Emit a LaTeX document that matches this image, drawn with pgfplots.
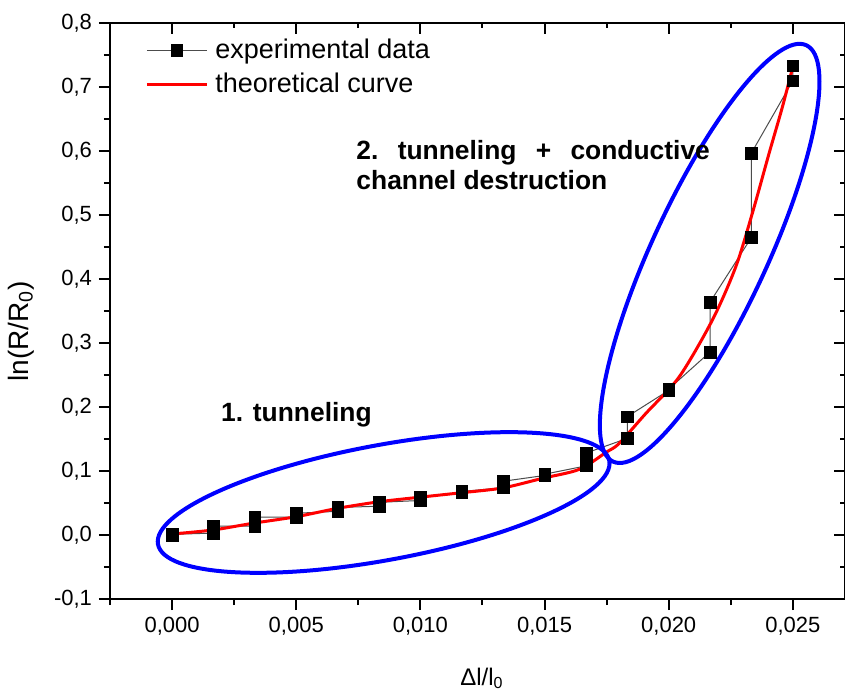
\documentclass[border=0pt]{standalone}
\usepackage{fontspec}
\setmainfont{Liberation Sans}
\usepackage{pgfplots}
\pgfplotsset{compat=1.18}
\usetikzlibrary{shapes.geometric}

% measured points (two readings per strain step)
\pgfplotstableread{
x y
0.0000000 0.000
0.0000000 0.001
0.0016667 0.003
0.0016667 0.014
0.0033333 0.014
0.0033333 0.028
0.0050000 0.028
0.0050000 0.034
0.0066667 0.037
0.0066667 0.043
0.0083333 0.045
0.0083333 0.051
0.0100000 0.054
0.0100000 0.060
0.0116667 0.066
0.0116667 0.068
0.0133333 0.074
0.0133333 0.084
0.0150000 0.093
0.0150000 0.095
0.0166667 0.108
0.0166667 0.128
0.0183333 0.151
0.0183333 0.185
0.0200000 0.226
0.0200000 0.228
0.0216667 0.286
0.0216667 0.364
0.0233333 0.465
0.0233333 0.597
0.0250000 0.710
0.0250000 0.733
}\expdata

% fitted curve
\pgfplotstableread{
x y
0.00000 0.0016
0.00164 0.0078
0.00325 0.0183
0.00500 0.0286
0.00667 0.0417
0.00835 0.0520
0.00996 0.0590
0.01164 0.0660
0.01331 0.0735
0.01492 0.0886
0.01640 0.1026
0.01747 0.1290
0.01800 0.1430
0.01908 0.1900
0.02042 0.2470
0.02176 0.3360
0.02270 0.4190
0.02337 0.5030
0.02404 0.5960
0.02458 0.6690
0.02498 0.7290
}\theory

\pgfplotsset{
  frame/.style={
    scale only axis, width=367.5pt, height=288pt,
    xmin=-0.0025, xmax=0.0271, ymin=-0.1, ymax=0.8,
    scaled x ticks=false, scaled y ticks=false,
    axis line style={line width=1pt},
    every tick/.style={black, line width=1pt},
    xtick={0,0.005,0.01,0.015,0.02,0.025},
    minor xtick={-0.0025,0.0025,0.0075,0.0125,0.0175,0.0225},
    ytick={-0.1,0,0.1,0.2,0.3,0.4,0.5,0.6,0.7,0.8},
    minor ytick={-0.05,0.05,0.15,0.25,0.35,0.45,0.55,0.65,0.75},
  }
}

\begin{document}
\begin{tikzpicture}
\begin{axis}[
  frame,
  axis x line*=bottom, axis y line*=left,
  tick align=outside,
  major tick length=5.5pt, minor tick length=3pt,
  /pgf/number format/assume math mode=true,
  tick label style={font=\fontsize{11}{13}\selectfont},
  xticklabel style={/pgf/number format/.cd, fixed, fixed zerofill, precision=3, use comma},
  yticklabel style={/pgf/number format/.cd, fixed, fixed zerofill, precision=1, use comma},
  xlabel={Δl/l\textsubscript{0}},
  xlabel style={font=\fontsize{12}{14}\selectfont, at={(axis description cs:0.506,-0.1493)}, anchor=base},
  ylabel={ln(R/R\textsubscript{0})},
  ylabel style={font=\fontsize{14}{16}\selectfont, at={(axis description cs:-0.111,0.465)}, anchor=base},
  legend style={draw=none, fill=none, font=\fontsize{13.5}{16}\selectfont,
    at={(axis description cs:0,1)}, anchor=north west, xshift=17.5pt, yshift=-7.9pt,
    inner sep=0pt, row sep=5.6pt, column sep=3.5pt, nodes={inner sep=0pt}},
  legend cell align=left,
  legend image code/.code={\draw[mark repeat=2,mark phase=2,#1] plot coordinates {(0pt,0pt) (15pt,0pt) (30pt,0pt)};},
]
\addplot[black!70, line width=0.5pt, mark=square*, mark size=2.9pt,
  mark options={solid, fill=black, draw=black, line width=0.2pt}] table {\expdata};
\addlegendentry{experimental data}
\addplot[red, line width=1.5pt, smooth, tension=0.5, no marks] table {\theory};
\addlegendentry{theoretical curve}

\node[draw=blue, line width=2pt, ellipse, minimum width=229.5pt, minimum height=57.5pt,
  inner sep=0pt, rotate=10.5] at (axis cs:0.00852,0.0508) {};
\node[draw=blue, line width=2pt, ellipse, minimum width=229.5pt, minimum height=57.5pt,
  inner sep=0pt, rotate=65.1] at (axis cs:0.02165,0.440) {};

\node[anchor=base west, inner sep=0pt, font=\bfseries\fontsize{13.2}{15}\selectfont]
  at (axis cs:0.00196,0.177) {1. tunneling};
\node[anchor=base west, inner sep=0pt, font=\bfseries\fontsize{13.2}{15}\selectfont]
  at (axis cs:0.00741,0.587) {\makebox[176.7pt]{2.\hfill tunneling\hfill +\hfill conductive}};
\node[anchor=base west, inner sep=0pt, font=\bfseries\fontsize{13.2}{15}\selectfont]
  at (axis cs:0.00741,0.540) {channel destruction};
\end{axis}

% mirrored top and right axes, ticks pointing in
\begin{axis}[
  frame,
  axis x line*=top, axis y line*=right,
  tick align=inside,
  major tick length=5.5pt, minor tick length=2.7pt,
  xticklabels={}, yticklabels={},
]
\end{axis}

\pgfresetboundingbox
\useasboundingbox (-55pt,-49pt) rectangle (367.5pt,299.5pt);
\end{tikzpicture}
\end{document}
